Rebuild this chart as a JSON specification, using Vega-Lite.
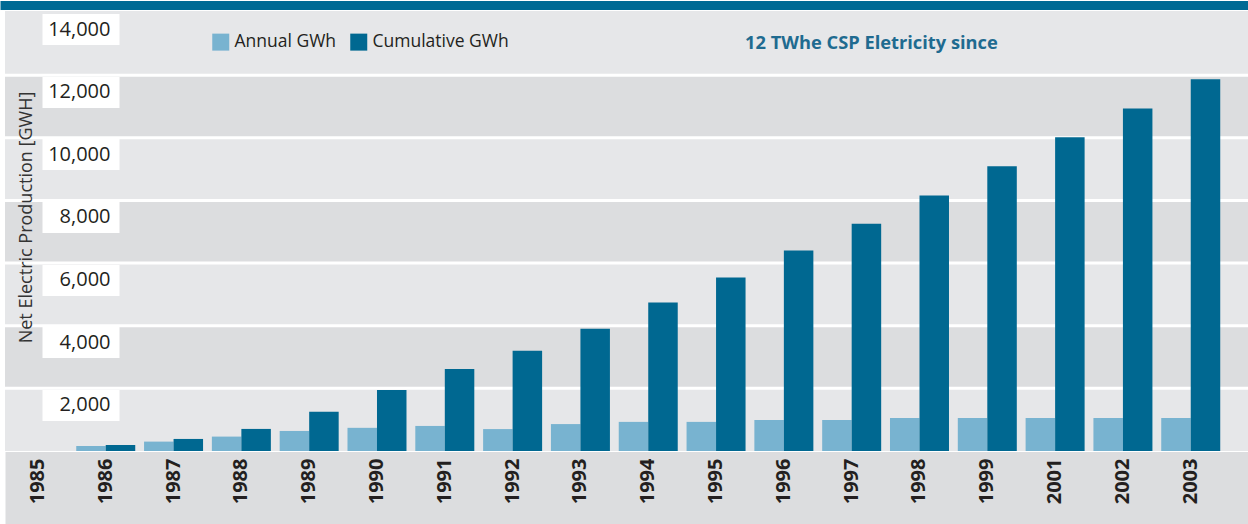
{
  "$schema": "https://vega.github.io/schema/vega-lite/v6.json",
  "width": 1243,
  "height": 440,
  "autosize": {"type": "none"},
  "padding": {"left": 5, "top": 11, "right": 0, "bottom": 73},
  "background": "white",
  "config": {"view": {"fill": "#e6e7e9", "stroke": null}, "font": "Open Sans"},
  "title": {"text": "12 TWhe CSP Eletricity since", "anchor": "start", "frame": "group", "dx": 740, "offset": -62, "baseline": "middle", "font": "Open Sans", "fontSize": 18.3, "fontWeight": "bold", "color": "#1f6b90"},
  "datasets": {
    "bands": [{"lo": 2000, "hi": 4000}, {"lo": 6000, "hi": 8000}, {"lo": 10000, "hi": 12000}],
    "grid": [{"v": 2000}, {"v": 4000}, {"v": 6000}, {"v": 8000}, {"v": 10000}, {"v": 12000}],
    "bars": [
      {"year": "1986", "series": "Annual GWh", "value": 160}, {"year": "1986", "series": "Cumulative GWh", "value": 190},
      {"year": "1987", "series": "Annual GWh", "value": 300}, {"year": "1987", "series": "Cumulative GWh", "value": 385},
      {"year": "1988", "series": "Annual GWh", "value": 460}, {"year": "1988", "series": "Cumulative GWh", "value": 705},
      {"year": "1989", "series": "Annual GWh", "value": 640}, {"year": "1989", "series": "Cumulative GWh", "value": 1250},
      {"year": "1990", "series": "Annual GWh", "value": 740}, {"year": "1990", "series": "Cumulative GWh", "value": 1950},
      {"year": "1991", "series": "Annual GWh", "value": 800}, {"year": "1991", "series": "Cumulative GWh", "value": 2620},
      {"year": "1992", "series": "Annual GWh", "value": 700}, {"year": "1992", "series": "Cumulative GWh", "value": 3200},
      {"year": "1993", "series": "Annual GWh", "value": 860}, {"year": "1993", "series": "Cumulative GWh", "value": 3900},
      {"year": "1994", "series": "Annual GWh", "value": 930}, {"year": "1994", "series": "Cumulative GWh", "value": 4740},
      {"year": "1995", "series": "Annual GWh", "value": 930}, {"year": "1995", "series": "Cumulative GWh", "value": 5540},
      {"year": "1996", "series": "Annual GWh", "value": 990}, {"year": "1996", "series": "Cumulative GWh", "value": 6400},
      {"year": "1997", "series": "Annual GWh", "value": 990}, {"year": "1997", "series": "Cumulative GWh", "value": 7260},
      {"year": "1998", "series": "Annual GWh", "value": 1050}, {"year": "1998", "series": "Cumulative GWh", "value": 8160},
      {"year": "1999", "series": "Annual GWh", "value": 1050}, {"year": "1999", "series": "Cumulative GWh", "value": 9090},
      {"year": "2001", "series": "Annual GWh", "value": 1050}, {"year": "2001", "series": "Cumulative GWh", "value": 10020},
      {"year": "2002", "series": "Annual GWh", "value": 1050}, {"year": "2002", "series": "Cumulative GWh", "value": 10940},
      {"year": "2003", "series": "Annual GWh", "value": 1050}, {"year": "2003", "series": "Cumulative GWh", "value": 11870}
    ]
  },
  "layer": [
    {
      "data": {"name": "bands"},
      "mark": {"type": "rect", "color": "#dcdddf"},
      "encoding": {
        "y": {"field": "lo", "type": "quantitative", "scale": {"domain": [0, 14050], "nice": false, "zero": true},
          "axis": {"orient": "left", "offset": -1243, "values": [14050], "tickOffset": -6.5, "tickSize": 1248, "tickWidth": 9, "tickColor": "#006a94", "labels": false, "domain": false, "grid": false, "title": null, "zindex": 1}},
        "y2": {"field": "hi"}
      }
    },
    {
      "data": {"name": "grid"},
      "mark": {"type": "rule", "color": "white", "strokeWidth": 3},
      "encoding": {
        "y": {"field": "v", "type": "quantitative",
          "axis": {"orient": "left", "offset": -1243, "values": [0], "tickOffset": 36.5, "tickSize": 1243, "tickWidth": 73, "tickColor": "#dcdddf", "labels": false, "domain": false, "grid": false, "title": null, "zindex": 0}}
      }
    },
    {
      "data": {"name": "bars"},
      "mark": {"type": "bar"},
      "encoding": {
        "x": {"field": "year", "type": "nominal",
          "scale": {"domain": ["1985","1986","1987","1988","1989","1990","1991","1992","1993","1994","1995","1996","1997","1998","1999","2001","2002","2003"], "paddingInner": 0.13, "paddingOuter": 0.23, "align": 0.11},
          "axis": {"orient": "bottom", "labelAngle": -90, "labelFont": "Open Sans", "labelFontSize": 20, "labelFontWeight": "bold", "labelColor": "#231f20", "ticks": false, "domain": false, "labelPadding": 7, "title": null, "zindex": 2, "grid": false}},
        "xOffset": {"field": "series", "type": "nominal", "scale": {"paddingInner": 0, "paddingOuter": 0}},
        "y": {"field": "value", "type": "quantitative",
          "axis": {"orient": "left", "offset": -114, "values": [2000, 4000, 6000, 8000, 10000, 12000, 14000], "format": ",d", "tickSize": 77, "tickWidth": 31, "tickColor": "white", "tickOffset": 16.5, "labelPadding": -68, "labelAlign": "right", "labelBaseline": "middle", "labelFont": "Open Sans", "labelFontSize": 20, "labelColor": "#231f20", "labelFlush": false, "labelOverlap": false, "domain": false, "grid": false,
            "title": "Net Electric Production [GWH]", "titleX": -93, "titleY": 206, "titleAngle": 270, "titleAlign": "center", "titleBaseline": "middle", "titleFont": "Open Sans", "titleFontSize": 18, "titleFontWeight": "normal", "titleColor": "#333333", "zindex": 1}},
        "color": {"field": "series", "type": "nominal",
          "scale": {"domain": ["Annual GWh", "Cumulative GWh"], "range": ["#78b3d0", "#006891"]},
          "legend": {"orient": "none", "legendX": 207, "legendY": 22, "direction": "horizontal", "title": null, "symbolType": "square", "symbolSize": 289, "symbolStrokeWidth": 0, "symbolOpacity": 1, "labelFont": "Open Sans", "labelFontSize": 17.5, "labelColor": "#231f20", "labelOffset": 5, "columnPadding": 13, "padding": 0}}
      }
    }
  ],
  "resolve": {"axis": {"y": "independent"}}
}
